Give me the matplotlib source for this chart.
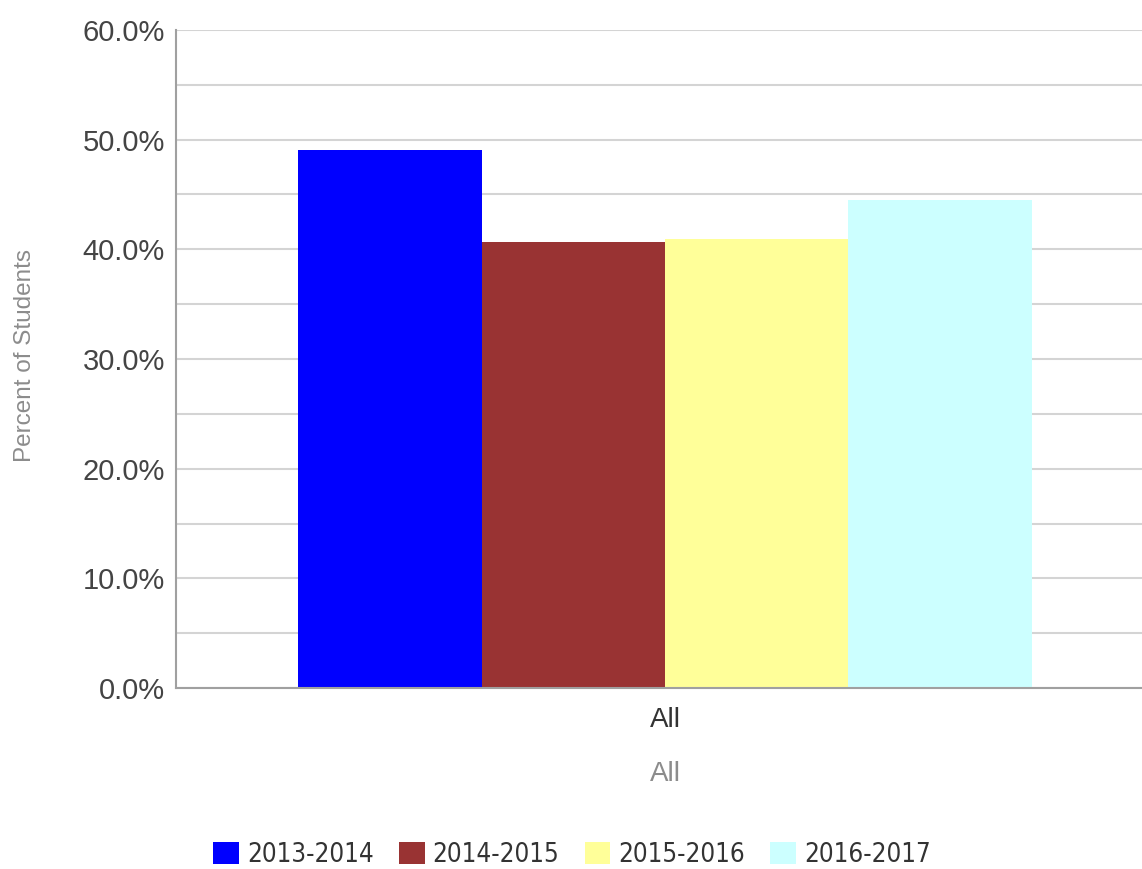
import numpy as np
import matplotlib
matplotlib.use("Agg")
import matplotlib.pyplot as plt
from matplotlib.ticker import MultipleLocator, FuncFormatter

# data
category = "All"
years = ["2013-2014", "2014-2015", "2015-2016", "2016-2017"]
values = [49.1, 40.7, 40.9, 44.5]
colors = ["#0000FF", "#993333", "#FFFF99", "#CCFFFF"]

W, H = 1142, 869
fig = plt.figure(figsize=(W / 100, H / 100), dpi=100)
# plot area runs past the right edge of the image, like the screenshot
ax = fig.add_axes([176 / W, 1 - 688 / H, 978 / W, 658 / H])

bar_w = 0.1875
offsets = (np.arange(len(years)) - 1.5) * bar_w
for off, v, c, lab in zip(offsets, values, colors, years):
    ax.bar(off, v, width=bar_w, color=c, label=lab, zorder=2, linewidth=0)

ax.set_xlim(-0.5, 0.5)
ax.set_ylim(0, 60)
ax.yaxis.set_major_locator(MultipleLocator(10))
ax.yaxis.set_minor_locator(MultipleLocator(5))
ax.yaxis.set_major_formatter(FuncFormatter(lambda v, p: f"{v:.1f}%"))
ax.grid(axis="y", which="both", color="#d4d4d4", lw=1.5, zorder=0)
ax.set_xticks([0])
ax.set_xticklabels([category])

for s in ["top", "right"]:
    ax.spines[s].set_visible(False)
for s in ["left", "bottom"]:
    ax.spines[s].set_color("#a0a0a0")
    ax.spines[s].set_linewidth(1.5)

ax.tick_params(axis="y", which="both", length=0, pad=8, labelsize=21,
               labelcolor="#444444", labelfontfamily="Liberation Sans")
ax.tick_params(axis="x", length=0, pad=14, labelsize=20,
               labelcolor="#333333", labelfontfamily="Liberation Sans")

fig.text(25 / W, 1 - 355 / H, "Percent of Students", rotation=90,
         ha="center", va="center", fontsize=17.5, color="#8c8c8c",
         family="Liberation Sans")
fig.text(665 / W, 1 - 774 / H, category, ha="center", va="center",
         fontsize=20, color="#8c8c8c", family="Liberation Sans")

leg = fig.legend(loc="center", bbox_to_anchor=(572 / W, 1 - 855 / H), ncol=4,
                 frameon=False, handlelength=1.0, handleheight=0.93,
                 handletextpad=0.31, columnspacing=0.97, borderpad=0,
                 prop={"family": "DejaVu Sans", "stretch": "condensed",
                       "size": 18.6})
for t in leg.get_texts():
    t.set_color("#333333")

fig.savefig("out.png", dpi=100)
